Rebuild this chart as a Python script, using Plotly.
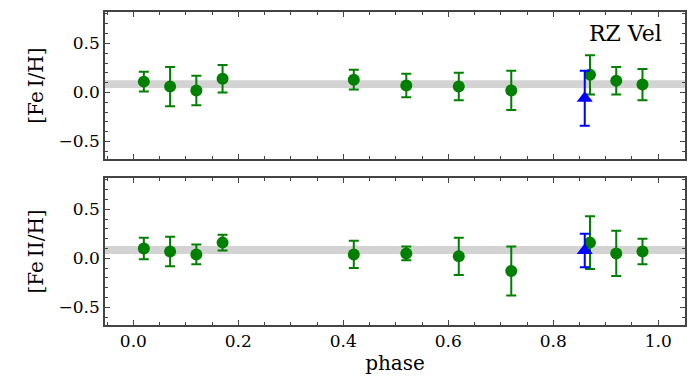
import plotly.graph_objects as go
from plotly.subplots import make_subplots

# phases of the green points and the single blue point
phase = [0.02, 0.07, 0.12, 0.17, 0.42, 0.52, 0.62, 0.72, 0.87, 0.92, 0.97]
blue_phase = [0.86]

# [Fe I/H]
fe1 = [0.11, 0.06, 0.02, 0.14, 0.13, 0.07, 0.06, 0.02, 0.18, 0.12, 0.08]
fe1_err = [0.10, 0.20, 0.15, 0.14, 0.10, 0.12, 0.14, 0.20, 0.20, 0.14, 0.16]
fe1_blue = [-0.06]
fe1_blue_err = [0.28]

# [Fe II/H]
fe2 = [0.10, 0.07, 0.04, 0.16, 0.04, 0.05, 0.02, -0.13, 0.16, 0.05, 0.07]
fe2_err = [0.11, 0.15, 0.10, 0.08, 0.14, 0.07, 0.19, 0.25, 0.27, 0.23, 0.13]
fe2_blue = [0.08]
fe2_blue_err = [0.17]

# mean metallicity band
band_lo = 0.045
band_hi = 0.125

GREEN = "#008000"
BLUE = "#0000ff"
FRAME = "#444444"
FONT = "DejaVu Serif"

fig = make_subplots(rows=2, cols=1, shared_xaxes=True, vertical_spacing=0.06)

panels = [(fe1, fe1_err, fe1_blue, fe1_blue_err), (fe2, fe2_err, fe2_blue, fe2_blue_err)]
for row, (vals, errs, bvals, berrs) in enumerate(panels, start=1):
    fig.add_trace(go.Scatter(
        x=phase, y=vals, mode="markers",
        marker=dict(color=GREEN, size=12),
        error_y=dict(type="data", array=errs, color=GREEN, thickness=2, width=5),
        showlegend=False,
    ), row=row, col=1)
    fig.add_trace(go.Scatter(
        x=blue_phase, y=bvals, mode="markers",
        marker=dict(color=BLUE, size=14, symbol="triangle-up"),
        error_y=dict(type="data", array=berrs, color=BLUE, thickness=2, width=5),
        showlegend=False,
    ), row=row, col=1)
    fig.add_hrect(y0=band_lo, y1=band_hi, fillcolor="#d3d3d3", opacity=1, line_width=0,
                  layer="below", row=row, col=1, exclude_empty_subplots=False)

# the page body has an 8px margin, so the figure is trimmed by that much
fig.update_layout(
    width=692, height=371,
    plot_bgcolor="white", paper_bgcolor="white",
    font=dict(family=FONT, size=17, color="black"),
    margin=dict(l=97, r=15, t=2, b=54),
)

fig.update_xaxes(
    range=[-0.054, 1.051], dtick=0.2, tickformat=".1f",
    showline=True, linecolor=FRAME, linewidth=1.5, mirror="allticks",
    ticks="inside", ticklen=5, tickcolor=FRAME, showgrid=False, zeroline=False,
    minor=dict(dtick=0.05, ticks="inside", ticklen=3, tickcolor=FRAME),
)
fig.update_xaxes(title_text="phase", title_standoff=6, row=2, col=1)

fig.update_yaxes(
    range=[-0.68, 0.82], dtick=0.5, tickformat=".1f",
    showline=True, linecolor=FRAME, linewidth=1.5, mirror="allticks",
    ticks="inside", ticklen=5, tickcolor=FRAME, showgrid=False, zeroline=False,
    minor=dict(dtick=0.1, ticks="inside", ticklen=3, tickcolor=FRAME),
)
fig.update_yaxes(title_text="[Fe\u2009I/H]", title_standoff=10, row=1, col=1)
fig.update_yaxes(title_text="[Fe\u2009II/H]", title_standoff=10, row=2, col=1)

fig.add_annotation(text="RZ Vel", xref="x domain", yref="y domain", x=0.964, y=0.857,
                   xanchor="right", yanchor="middle", showarrow=False,
                   font=dict(family=FONT, size=22, color="black"))

fig.write_html("out.html")
